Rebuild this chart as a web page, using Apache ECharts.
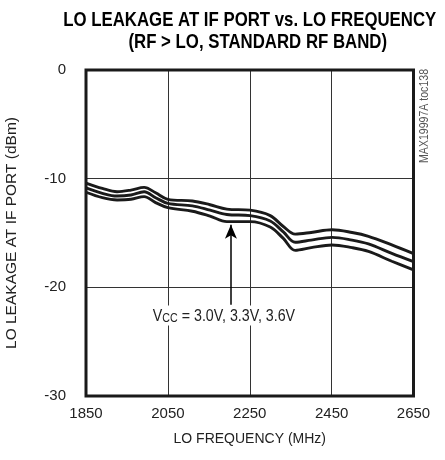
<!DOCTYPE html>
<html><head><meta charset="utf-8">
<script src="https://cdn.jsdelivr.net/npm/echarts@6/dist/echarts.min.js"></script>
<style>html,body{margin:0;padding:0;background:#fff}#c{width:445px;height:460px}</style>
</head><body><div id="c"></div>
<script>
var freq = [1850,1890,1926,1960,1992,2020,2050,2110,2153,2194,2251,2300,2332,2361,2400,2451,2500,2540,2597,2650];
var vcc30 = [-10.4,-10.9,-11.2,-11.05,-10.8,-11.3,-11.9,-12.05,-12.4,-12.8,-12.9,-13.4,-14.4,-15.1,-14.95,-14.7,-14.95,-15.3,-16.1,-16.9];
var vcc33 = [-10.85,-11.35,-11.6,-11.5,-11.2,-11.75,-12.27,-12.5,-12.9,-13.3,-13.4,-13.9,-14.9,-15.85,-15.65,-15.4,-15.65,-16.0,-16.87,-17.63];
var vcc36 = [-11.25,-11.75,-11.96,-11.9,-11.65,-12.2,-12.67,-13.0,-13.45,-13.95,-13.95,-14.45,-15.5,-16.6,-16.35,-16.1,-16.35,-16.7,-17.6,-18.4];
var xTicks = [1850,2050,2250,2450,2650];
var yTicks = [0,-10,-20,-30];
var titleLines = ['LO LEAKAGE AT IF PORT vs. LO FREQUENCY','(RF > LO, STANDARD RF BAND)'];
var xName = 'LO FREQUENCY (MHz)';
var yName = 'LO LEAKAGE AT IF PORT (dBm)';
var arrowFrom = [2204,-21.6];
var arrowTo = [2204,-14.25];
var notePos = [2187,-22.6];
var noteText = ['V','CC',' = 3.0V, 3.3V, 3.6V'];
var stamp = 'MAX19997A toc138';

function pairs(v){return freq.map(function(f,i){return [f,v[i]];});}
var font = 'Liberation Sans';
var chart = echarts.init(document.getElementById('c'), null, {renderer:'canvas'});
var lineStyle = {color:'#1a1a1a', width:2.9};
function ser(name,d){return {name:name, type:'line', data:pairs(d), smooth:0.35, symbol:'none', lineStyle:lineStyle, z:5};}
var s1 = ser('3.0V', vcc30);
s1.markLine = {silent:true, symbol:['none','arrow'], symbolSize:[9,14], label:{show:false},
  lineStyle:{color:'#000', width:1.5, type:'solid'},
  data:[[{coord:arrowFrom},{coord:arrowTo}]]};
chart.setOption({
  animation:false,
  grid:{left:86, right:31.5, top:70, bottom:64, containLabel:false, outerBoundsMode:'none'},
  xAxis:{type:'value', min:1850, max:2650, interval:200,
    name:xName, nameLocation:'middle', nameGap:36,
    nameTextStyle:{fontFamily:font, fontSize:14, color:'#222'},
    axisLine:{show:false}, axisTick:{show:false},
    axisLabel:{fontFamily:font, fontSize:15, color:'#222', margin:10, formatter:function(v){return String(v);}},
    splitLine:{show:true, lineStyle:{color:'#333', width:1}}},
  yAxis:{type:'value', min:-30, max:0, interval:10,
    name:yName, nameLocation:'middle', nameGap:66,
    nameTextStyle:{fontFamily:font, fontSize:15.5, color:'#222'},
    axisLine:{show:false}, axisTick:{show:false},
    axisLabel:{fontFamily:font, fontSize:15, color:'#222', margin:20},
    splitLine:{show:true, lineStyle:{color:'#333', width:1}}},
  series:[s1, ser('3.3V', vcc33), ser('3.6V', vcc36)]
});
var tl = chart.convertToPixel({gridIndex:0},[1850,0]);
var br = chart.convertToPixel({gridIndex:0},[2650,-30]);
var np = chart.convertToPixel({gridIndex:0},notePos);
var cx = (tl[0]+br[0])/2;
chart.setOption({graphic:[
  {type:'text', x:cx, y:20, scaleX:0.8, style:{text:titleLines[0], fontFamily:font, fontWeight:'bold', fontSize:21, fill:'#000', align:'center', verticalAlign:'middle'}},
  {type:'text', x:cx+8, y:42, scaleX:0.8, style:{text:titleLines[1], fontFamily:font, fontWeight:'bold', fontSize:21, fill:'#000', align:'center', verticalAlign:'middle'}},
  {type:'rect', shape:{x:tl[0], y:tl[1], width:br[0]-tl[0], height:br[1]-tl[1]}, style:{fill:'none', stroke:'#1a1a1a', lineWidth:3}, z:10},
  {type:'text', x:np[0], y:np[1], z:8, scaleX:0.89, style:{
    text:'{a|'+noteText[0]+'}{b|'+noteText[1]+'}{a|'+noteText[2]+'}', align:'center', verticalAlign:'middle',
    backgroundColor:'#fff', padding:[1,3],
    rich:{a:{fontFamily:font, fontSize:16, fill:'#222', verticalAlign:'bottom', lineHeight:18},
          b:{fontFamily:font, fontSize:12, fill:'#222', verticalAlign:'bottom', lineHeight:18, padding:[7,0,0,0]}}}},
  {type:'text', x:425, y:69, rotation:Math.PI/2, z:8, scaleX:0.88, style:{text:stamp, fontFamily:font, fontSize:12, fill:'#555', align:'right', verticalAlign:'middle'}}
]});
</script></body></html>
